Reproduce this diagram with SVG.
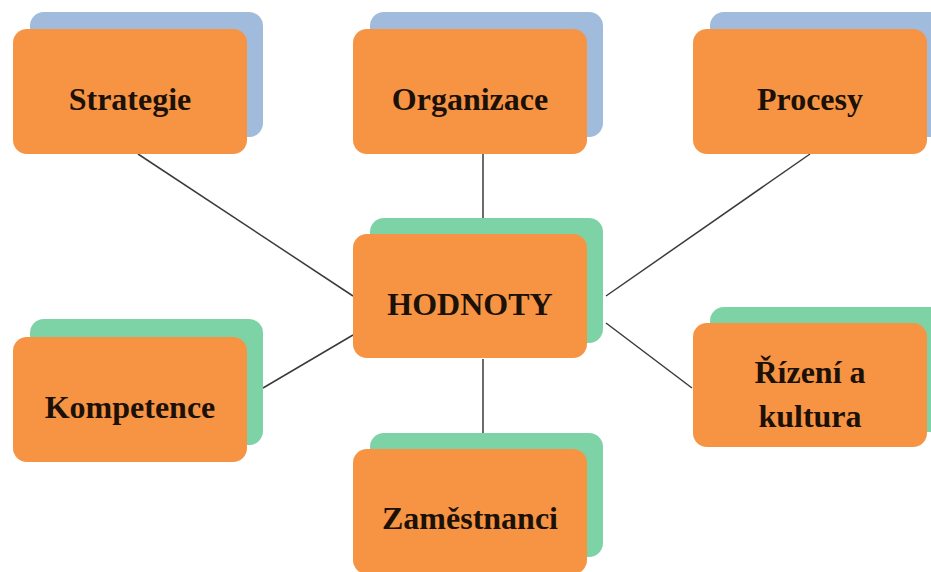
<svg xmlns="http://www.w3.org/2000/svg" width="931" height="572" viewBox="0 0 931 572">
<style>
.back-b{fill:#A0BBDC}
.back-g{fill:#7ED3A6}
.front{fill:#F69443}
.lbl{font-family:"Liberation Serif","Times New Roman",serif;font-weight:bold;font-size:32px;fill:#1C1109;text-anchor:middle}
.conn line{stroke:#3a3a3a;stroke-width:1.5}
</style>
<rect width="931" height="572" fill="#FFFFFF"/>
<g id="connectors" class="conn">
<line x1="138" y1="154" x2="353" y2="296"/>
<line x1="483" y1="154" x2="483" y2="218"/>
<line x1="810" y1="154" x2="606" y2="296"/>
<line x1="263" y1="388" x2="353" y2="335"/>
<line x1="483" y1="359" x2="483" y2="433"/>
<line x1="606" y1="323" x2="692" y2="388"/>
</g>
<g id="strategie">
<rect class="back-b" x="30" y="12" width="233" height="125" rx="14"/>
<rect class="front" x="13" y="29" width="234" height="125" rx="14"/>
<text class="lbl" x="130" y="110">Strategie</text>
</g>
<g id="organizace">
<rect class="back-b" x="370" y="12" width="233" height="125" rx="14"/>
<rect class="front" x="353" y="29" width="234" height="125" rx="14"/>
<text class="lbl" x="470" y="110">Organizace</text>
</g>
<g id="procesy">
<rect class="back-b" x="710" y="12" width="240" height="125" rx="14"/>
<rect class="front" x="693" y="29" width="234" height="125" rx="14"/>
<text class="lbl" x="810" y="110">Procesy</text>
</g>
<g id="hodnoty">
<rect class="back-g" x="370" y="218" width="233" height="125" rx="14"/>
<rect class="front" x="353" y="234" width="234" height="124" rx="14"/>
<text class="lbl" x="470" y="315">HODNOTY</text>
</g>
<g id="kompetence">
<rect class="back-g" x="30" y="319" width="233" height="126" rx="14"/>
<rect class="front" x="13" y="337" width="234" height="125" rx="14"/>
<text class="lbl" x="130" y="418">Kompetence</text>
</g>
<g id="rizeni">
<rect class="back-g" x="710" y="307" width="240" height="125" rx="14"/>
<rect class="front" x="693" y="323" width="234" height="124" rx="14"/>
<text class="lbl" x="810" y="383">Řízení a</text>
<text class="lbl" x="810" y="427">kultura</text>
</g>
<g id="zamestnanci">
<rect class="back-g" x="370" y="433" width="233" height="124" rx="14"/>
<rect class="front" x="353" y="449" width="234" height="125" rx="14"/>
<text class="lbl" x="470" y="529">Zaměstnanci</text>
</g>
</svg>
